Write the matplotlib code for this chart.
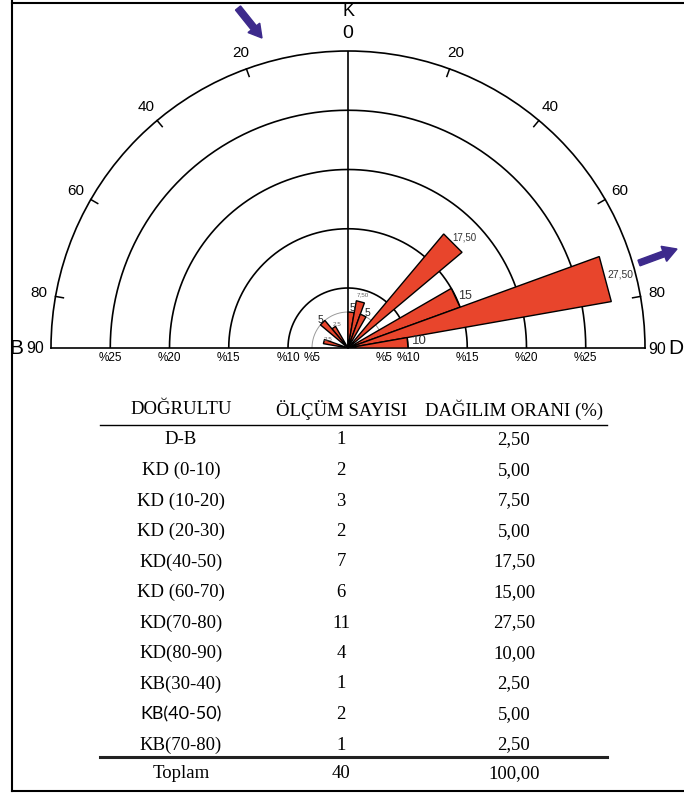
import numpy as np
import matplotlib
matplotlib.use('Agg')
import matplotlib.pyplot as plt
from matplotlib.lines import Line2D
from matplotlib.patches import FancyArrow

plt.rcParams['font.family'] = ['Liberation Sans', 'DejaVu Sans']

# strike classes, measurement counts and share of each class
directions = ['D-B', 'KD (0-10)', 'KD (10-20)', 'KD (20-30)', 'KD(40-50)', 'KD (60-70)',
              'KD(70-80)', 'KD(80-90)', 'KB(30-40)', 'KB(40-50)', 'KB(70-80)']
counts = [1, 2, 3, 2, 7, 6, 11, 4, 1, 2, 1]
percents = [2.50, 5.00, 7.50, 5.00, 17.50, 15.00, 27.50, 10.00, 2.50, 5.00, 2.50]

# bearing range of each petal in degrees from north (negative = KB side)
petal_from = [90, 0, 10, 20, 40, 60, 70, 80, -40, -50, -80]
petal_to = [90, 10, 20, 30, 50, 70, 80, 90, -30, -40, -70]
petal_text = ['', '5', '7,50', '5', '17,50', '15', '27,50', '10', '2.5', '5', '2.5']

ring_ticks = [-80, -60, -40, -20, 20, 40, 60, 80]
circle_pcts = [10, 15, 20, 25]
pct_labels = [5, 10, 15, 20, 25]

# label placement per petal: offset x, offset y (px), size, colour
petal_style = [
    (0, 0, 7, 'black'),
    (1, 4, 7.5, '#222222'),
    (2, 7, 4.5, '#666666'),
    (4, 2, 7.5, '#222222'),
    (11, 5, 7, '#333333'),
    (9, 2, 9, '#333333'),
    (14, 4, 7.5, '#333333'),
    (12, 2, 9.5, '#333333'),
    (3, 3, 4.5, '#666666'),
    (-2, 3, 7.5, '#222222'),
    (4, 2, 4.5, '#666666'),
]

# radial scale of the rose: stretched inner part, linear beyond 10 %
knots_pct = [0, 2.5, 5, 10, 30]
knots_r = [0, 25, 36, 60, 297]


def fwd(p):
    return np.interp(p, knots_pct, knots_r)


def inv(r):
    return np.interp(r, knots_r, knots_pct)


W, H = 684, 794
cx, cy, R = 348, 348, 297
fig = plt.figure(figsize=(W / 100, H / 100), dpi=100)
ax = fig.add_axes([(cx - R) / W, (H - cy - R / 2) / H, 2 * R / W, 2 * R / H],
                  projection='polar')
ax.set_theta_zero_location('N')
ax.set_theta_direction(-1)
ax.set_thetalim(thetamin=-90, thetamax=90)
ax.set_rscale('function', functions=(fwd, inv))
ax.set_rlim(0, 30)
ax.grid(False)
ax.set_yticks([])
ax.set_xticks([])
for s in ['polar', 'start', 'end']:
    ax.spines[s].set_linewidth(1.2)
    ax.spines[s].set_color('black')

# percentage circles and north line
th = np.radians(np.linspace(-90, 90, 361))
for p in circle_pcts:
    ax.plot(th, np.full_like(th, p), color='black', lw=1.2, zorder=1)
ax.plot(th, np.full_like(th, 5), color='#9a9a9a', lw=0.7, zorder=1)
ax.plot([0, 0], [0, 30], color='black', lw=1.2, zorder=1)

# inward ticks on the outer ring, 8 px long
r_tick = inv(R - 8)
for b in ring_ticks:
    ax.plot([np.radians(b)] * 2, [r_tick, 30], color='black', lw=1.1, zorder=2,
            clip_on=False)

# petals
for lo, hi, p, txt, (dx, dy, fs, col) in zip(petal_from, petal_to, percents,
                                             petal_text, petal_style):
    if lo == hi:
        continue
    ax.fill(np.radians([lo, lo, hi]), [0, p, p], facecolor='#e8452c',
            edgecolor='black', lw=1, zorder=3)
    ax.annotate(txt, xy=(np.radians((lo + hi) / 2), p), xytext=(dx, dy),
                textcoords='offset pixels', ha='center', va='center',
                fontsize=fs, color=col, zorder=5, annotation_clip=False)

# degree labels on the outer ring
for b in ring_ticks:
    d = 17
    ax.annotate(str(abs(b)), xy=(np.radians(b), 30),
                xytext=(d * np.sin(np.radians(b)), d * np.cos(np.radians(b))),
                textcoords='offset pixels', ha='center', va='center',
                fontsize=11, annotation_clip=False)
ax.annotate('0', xy=(0, 30), xytext=(0, 17), textcoords='offset pixels',
            ha='center', va='center', fontsize=14, annotation_clip=False)
ax.annotate('K', xy=(0, 30), xytext=(0, 40), textcoords='offset pixels',
            ha='center', va='center', fontsize=13, annotation_clip=False)
ax.annotate('90', xy=(np.radians(-90), 30), xytext=(-16, -1), textcoords='offset pixels',
            ha='center', va='center', fontsize=11.5, annotation_clip=False)
ax.annotate('B', xy=(np.radians(-90), 30), xytext=(-35, -1), textcoords='offset pixels',
            ha='center', va='center', fontsize=15, annotation_clip=False)
ax.annotate('90', xy=(np.radians(90), 30), xytext=(12, -1), textcoords='offset pixels',
            ha='center', va='center', fontsize=11.5, annotation_clip=False)
ax.annotate('D', xy=(np.radians(90), 30), xytext=(23, -1), textcoords='offset pixels',
            ha='left', va='center', fontsize=15, annotation_clip=False)

# percentage labels under the base line
for p in pct_labels:
    for side in (-90, 90):
        ax.annotate('%' + str(p), xy=(np.radians(side), p), xytext=(0, -10),
                    textcoords='offset pixels', ha='center', va='center',
                    fontsize=8.5, annotation_clip=False)

# direction arrows
arrow_col = '#3d2a8c'
fig.add_artist(FancyArrow(2.38, 7.86, 0.24, -0.30, width=0.065, head_width=0.15,
                          head_length=0.13, length_includes_head=True,
                          color=arrow_col, transform=fig.dpi_scale_trans))
fig.add_artist(FancyArrow(6.39, 5.31, 0.38, 0.14, width=0.06, head_width=0.16,
                          head_length=0.14, length_includes_head=True,
                          color=arrow_col, transform=fig.dpi_scale_trans))


# frame
def fy(y):
    return 1 - y / H


def fx(x):
    return x / W


fig.add_artist(Line2D([fx(12), fx(12)], [fy(0), fy(791)], color='black', lw=1.5))
fig.add_artist(Line2D([fx(12), 1], [fy(3), fy(3)], color='black', lw=1.5))
fig.add_artist(Line2D([fx(12), 1], [fy(791), fy(791)], color='black', lw=1.5))

# table
serif = ['Liberation Serif', 'DejaVu Serif']
col_x = [181, 341, 514]
tfs = 13.5
for x, t in zip(col_x, ['DOĞRULTU', 'ÖLÇÜM SAYISI', 'DAĞILIM ORANI (%)']):
    fig.text(fx(x), fy(410), t, ha='center', va='center', family=serif, fontsize=tfs)
fig.add_artist(Line2D([fx(100), fx(607)], [fy(425), fy(425)], color='black', lw=1.0))

for i, (d, n, p) in enumerate(zip(directions, counts, percents)):
    y = fy(440 + i * 30.5)
    fam = ['Lato', 'DejaVu Sans'] if d == 'KB(40-50)' else serif
    fig.text(fx(col_x[0]), y, d, ha='center', va='center', family=fam,
             fontsize=tfs - 0.5 if d == 'KB(40-50)' else tfs)
    fig.text(fx(col_x[1]), y, str(n), ha='center', va='center', family=serif, fontsize=tfs)
    fig.text(fx(col_x[2]), y, f'{p:.2f}'.replace('.', ','), ha='center', va='center',
             family=serif, fontsize=tfs)

fig.add_artist(Line2D([fx(100), fx(607)], [fy(757), fy(757)], color='#222222', lw=2.2))
fig.text(fx(col_x[0]), fy(774), 'Toplam', ha='center', va='center', family=serif, fontsize=tfs)
fig.text(fx(col_x[1]), fy(774), str(sum(counts)), ha='center', va='center',
         family=serif, fontsize=tfs)
fig.text(fx(col_x[2]), fy(774), f'{sum(percents):.2f}'.replace('.', ','), ha='center',
         va='center', family=serif, fontsize=tfs)

fig.savefig('out.png', dpi=100, facecolor='white')
